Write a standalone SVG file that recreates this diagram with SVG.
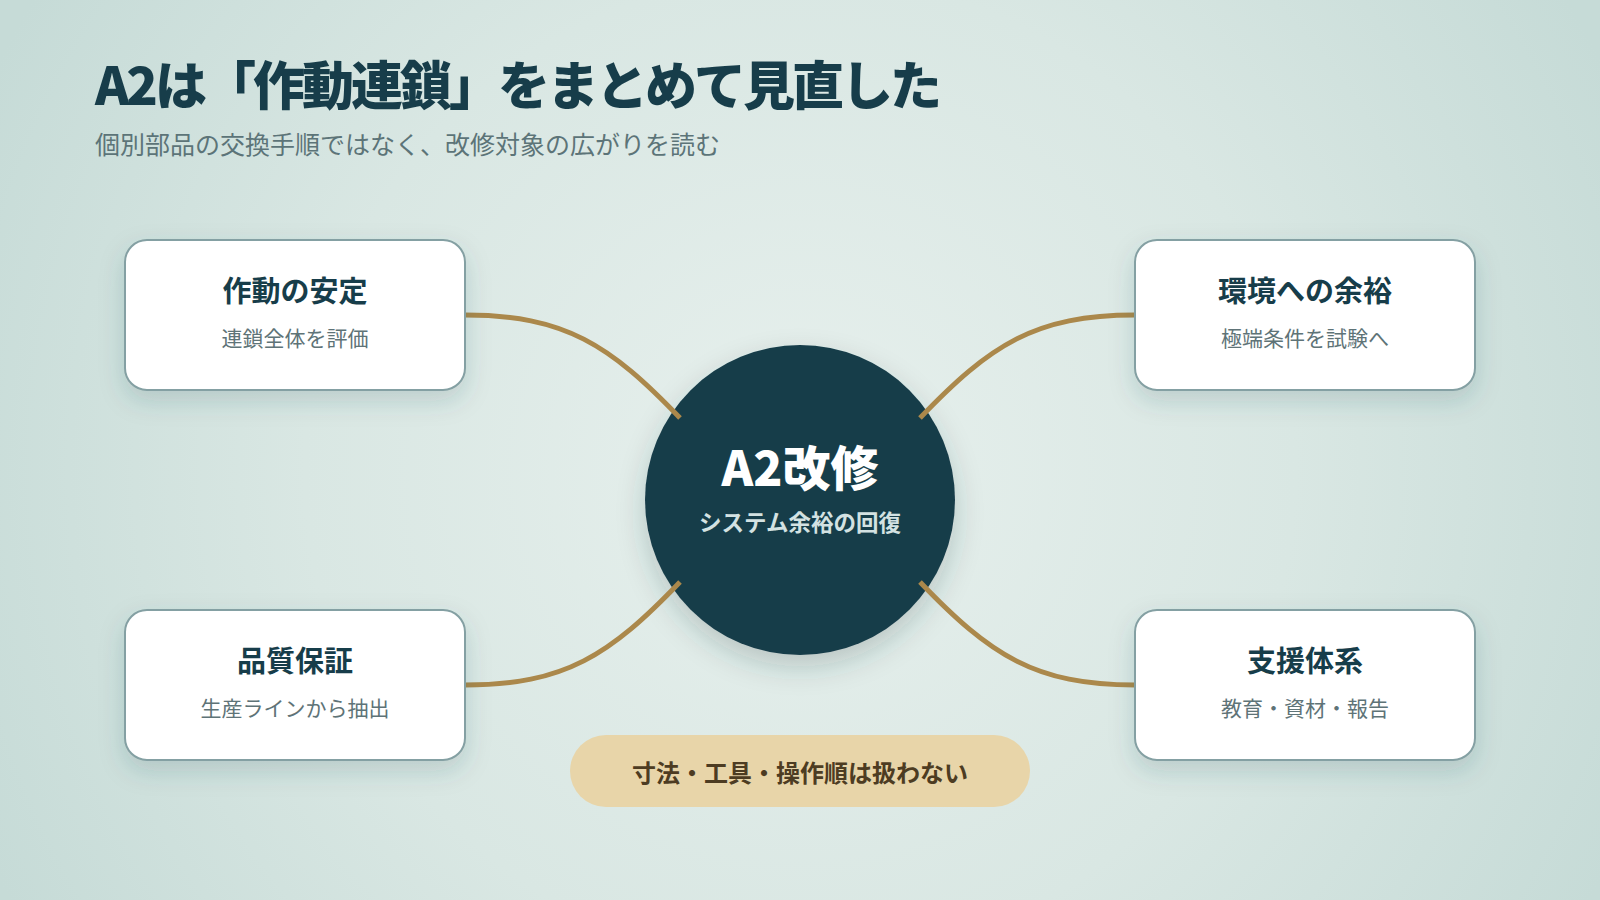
<svg xmlns="http://www.w3.org/2000/svg" width="1600" height="900" viewBox="0 0 1600 900">
  <defs>
    <radialGradient id="bg" cx="800" cy="470" r="900" gradientUnits="userSpaceOnUse">
      <stop offset="0" stop-color="#e7f0ed"/>
      <stop offset="0.55" stop-color="#d9e7e3"/>
      <stop offset="1" stop-color="#c6dbd7"/>
    </radialGradient>
    <filter id="shadow" x="-20%" y="-20%" width="140%" height="150%">
      <feDropShadow dx="0" dy="10" stdDeviation="12" flood-color="#2d5458" flood-opacity="0.18"/>
    </filter>
    <filter id="cshadow" x="-20%" y="-20%" width="140%" height="150%">
      <feDropShadow dx="0" dy="12" stdDeviation="14" flood-color="#1b3d44" flood-opacity="0.22"/>
    </filter>
  </defs>
  <style>
    .jp { font-family: "Noto Sans CJK JP", "Noto Sans", "Liberation Sans", sans-serif; }
    .title { font-size: 52px; font-weight: 900; fill: #173d4a; letter-spacing: -3px; }
    .subtitle { font-size: 25px; font-weight: 400; fill: #5c7478; }
    .box { fill: #ffffff; stroke: #84a0a3; stroke-width: 2; }
    .btitle { font-size: 29px; font-weight: 700; fill: #173d4a; text-anchor: middle; }
    .bsub { font-size: 21px; font-weight: 400; fill: #5e7377; text-anchor: middle; }
    .conn { fill: none; stroke: #ab884b; stroke-width: 5; stroke-linecap: butt; }
  </style>
  <rect x="0" y="0" width="1600" height="900" fill="url(#bg)"/>

  <g id="header">
    <text class="jp title" x="95" y="105">A2は「作動連鎖」をまとめて見直した</text>
    <text class="jp subtitle" x="95" y="154">個別部品の交換手順ではなく、改修対象の広がりを読む</text>
  </g>

  <g id="node-center">
    <circle cx="800" cy="500" r="155" fill="#183d4a" filter="url(#cshadow)"/>
    <text class="jp" x="800" y="486" text-anchor="middle" font-size="48" font-weight="900" fill="#ffffff">A2改修</text>
    <text class="jp" x="800" y="531" text-anchor="middle" font-size="22.5" font-weight="700" fill="#d3e2e2">システム余裕の回復</text>
  </g>

  <g id="connectors">
    <path class="conn" d="M465,315 C565,315 610,345 680,418"/>
    <path class="conn" d="M1135,315 C1035,315 990,345 920,418"/>
    <path class="conn" d="M465,685 C565,685 610,655 680,582"/>
    <path class="conn" d="M1135,685 C1035,685 990,655 920,582"/>
  </g>

  <g id="node-stability">
    <rect class="box" x="125" y="240" width="340" height="150" rx="22" filter="url(#shadow)"/>
    <text class="jp btitle" x="295" y="302">作動の安定</text>
    <text class="jp bsub" x="295" y="346">連鎖全体を評価</text>
  </g>

  <g id="node-environment">
    <rect class="box" x="1135" y="240" width="340" height="150" rx="22" filter="url(#shadow)"/>
    <text class="jp btitle" x="1305" y="302">環境への余裕</text>
    <text class="jp bsub" x="1305" y="346">極端条件を試験へ</text>
  </g>

  <g id="node-quality">
    <rect class="box" x="125" y="610" width="340" height="150" rx="22" filter="url(#shadow)"/>
    <text class="jp btitle" x="295" y="672">品質保証</text>
    <text class="jp bsub" x="295" y="716">生産ラインから抽出</text>
  </g>

  <g id="node-support">
    <rect class="box" x="1135" y="610" width="340" height="150" rx="22" filter="url(#shadow)"/>
    <text class="jp btitle" x="1305" y="672">支援体系</text>
    <text class="jp bsub" x="1305" y="716">教育・資材・報告</text>
  </g>

  <g id="note">
    <rect x="570" y="735" width="460" height="72" rx="36" fill="#e8d5a9"/>
    <text class="jp" x="800" y="782" text-anchor="middle" font-size="24" font-weight="700" fill="#4d3c22">寸法・工具・操作順は扱わない</text>
  </g>
</svg>
